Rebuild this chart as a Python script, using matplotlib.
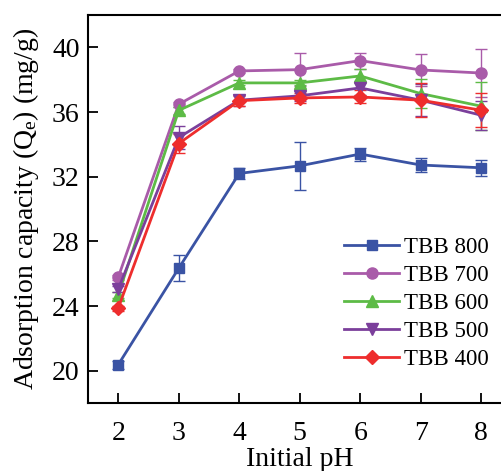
import matplotlib
matplotlib.use('Agg')
import matplotlib.pyplot as plt

plt.rcParams['font.family'] = 'serif'
plt.rcParams['font.serif'] = ['Liberation Serif', 'DejaVu Serif']
plt.rcParams['mathtext.fontset'] = 'custom'
plt.rcParams['mathtext.rm'] = 'Liberation Serif'
plt.rcParams['mathtext.it'] = 'Liberation Serif:italic'

# --- data
ph = [2, 3, 4, 5, 6, 7, 8]
labels = ['TBB 800', 'TBB 700', 'TBB 600', 'TBB 500', 'TBB 400']

tbb800 = [20.37, 26.34, 32.2, 32.67, 33.4, 32.72, 32.55]
tbb800_err = [0.25, 0.8, 0.34, 1.5, 0.4, 0.43, 0.5]
tbb700 = [25.78, 36.48, 38.54, 38.62, 39.18, 38.6, 38.41]
tbb700_err = [0.15, 0.15, 0.15, 1.0, 0.5, 1.0, 1.5]
tbb600 = [24.69, 36.1, 37.8, 37.8, 38.23, 37.14, 36.36]
tbb600_err = [0.2, 0.2, 0.15, 0.15, 0.45, 0.9, 1.48]
tbb500 = [25.04, 34.42, 36.73, 37.0, 37.49, 36.73, 35.8]
tbb500_err = [0.2, 0.7, 0.35, 0.3, 0.45, 1.0, 0.9]
tbb400 = [23.87, 34.05, 36.7, 36.87, 36.93, 36.73, 36.11]
tbb400_err = [0.15, 0.6, 0.3, 0.3, 0.4, 1.05, 1.06]

series = [tbb800, tbb700, tbb600, tbb500, tbb400]
errors = [tbb800_err, tbb700_err, tbb600_err, tbb500_err, tbb400_err]
colors = ['#3A53A4', '#A95BA9', '#5DBB46', '#7B3F9B', '#EE2D2D']
markers = ['s', 'o', '^', 'v', 'D']
msizes = [7, 8, 8, 8, 7]

fig = plt.figure(figsize=(5.01, 4.71), dpi=100)
# right spine falls just past the figure edge, as in the cropped original
ax = fig.add_axes([88 / 501, 68 / 471, 423.5 / 501, 388 / 471])

for y, e, c, m, ms, lab in zip(series, errors, colors, markers, msizes, labels):
    ax.errorbar(ph, y, yerr=e, color=c, marker=m, markersize=ms, lw=2.0,
                elinewidth=1.0, capsize=4.5, capthick=1.0, label=lab)

ax.set_xlim(1.5, 8.5)
ax.set_ylim(18, 42)
ax.set_xticks(ph)
ax.set_yticks([20, 24, 28, 32, 36, 40])
ax.tick_params(direction='in', length=7, width=1.3, labelsize=20, pad=6)
ax.tick_params(axis='x', pad=13)
for s in ax.spines.values():
    s.set_linewidth(1.5)

ax.set_xlabel('Initial pH', fontsize=20, labelpad=1)
ax.set_ylabel(r'Adsorption capacity (Q$_\mathrm{e}$) (mg/g)', fontsize=20, labelpad=8)

handles, labs = ax.get_legend_handles_labels()
handles = [h[0] for h in handles]
ax.legend(handles, labs, loc='lower right', bbox_to_anchor=(0.947, 0.085),
          frameon=False, fontsize=16.5, handlelength=2.4, handletextpad=0.22,
          labelspacing=0.3, borderaxespad=0, borderpad=0)

plt.savefig('out.png', dpi=100)
